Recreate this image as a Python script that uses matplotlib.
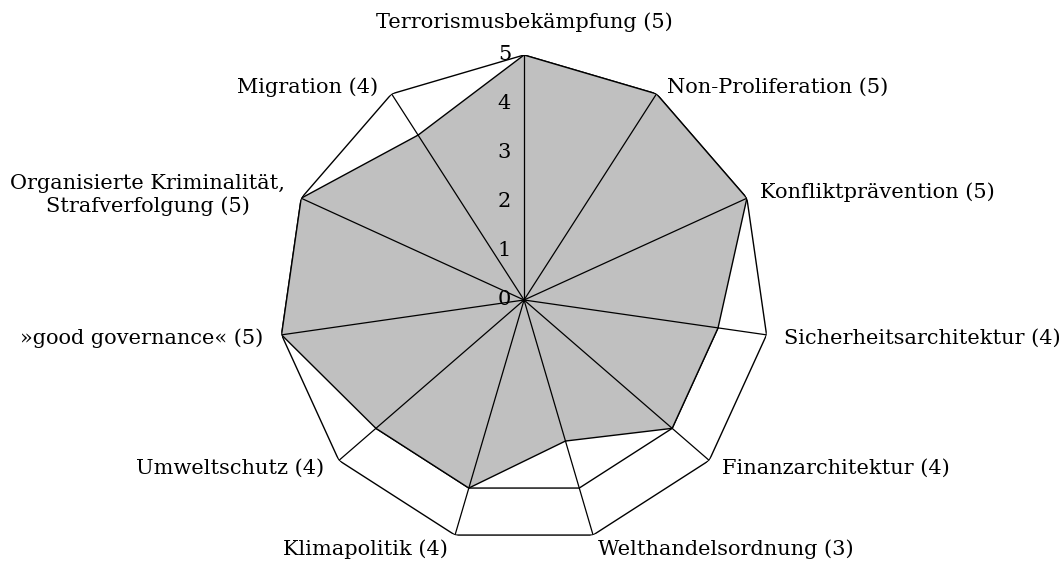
import numpy as np
import matplotlib.pyplot as plt

categories = ["Terrorismusbekämpfung (5)", "Non-Proliferation (5)", "Konfliktprävention (5)",
              "Sicherheitsarchitektur (4)", "Finanzarchitektur (4)", "Welthandelsordnung (3)",
              "Klimapolitik (4)", "Umweltschutz (4)", "»good governance« (5)",
              "Organisierte Kriminalität,\nStrafverfolgung (5)", "Migration (4)"]
values = [5, 5, 5, 4, 4, 3, 4, 4, 5, 5, 4]
levels = [0, 1, 2, 3, 4, 5]

# label placement (ha, dx px, dy px) relative to outer vertex
label_pos = [("center", 0, 33), ("left", 10, 7), ("left", 13, 6), ("left", 17, -3),
             ("left", 13, -8), ("left", 5, -14), ("right", -7, -14), ("right", -15, -8),
             ("right", -18, -3), ("right", -16, 3), ("right", -13, 7)]

plt.rcParams['font.family'] = ['DejaVu Serif']
fig = plt.figure(figsize=(10.59, 5.64), dpi=100)
ax = fig.add_axes([0.2635, 0.0337, 0.4627, 0.8688], projection='polar')
ax.set_theta_zero_location('N')
ax.set_theta_direction(-1)
ax.set_ylim(0, 5)
ax.axis('off')

n = len(categories)
theta = np.arange(n) * 2 * np.pi / n
closed = np.append(theta, theta[0])

for lv in levels[1:]:
    ax.plot(closed, [lv] * (n + 1), color='black', lw=1, zorder=1)
ax.fill(closed, values + [values[0]], facecolor='#c0c0c0', edgecolor='black', lw=1, zorder=2)
for t in theta:
    ax.plot([t, t], [0, levels[-1]], color='black', lw=0.9, zorder=3)

for lv in levels:
    ax.annotate(str(lv), xy=(0, lv), xytext=(-13, 0), textcoords='offset pixels',
                ha='right', va='center', fontsize=15, zorder=4)

for t, lab, (ha, dx, dy) in zip(theta, categories, label_pos):
    ax.annotate(lab, xy=(t, levels[-1]), xytext=(dx, dy), textcoords='offset pixels',
                ha=ha, va='center', multialignment='center', fontsize=15,
                annotation_clip=False)

fig.savefig('out.png', dpi=100)
